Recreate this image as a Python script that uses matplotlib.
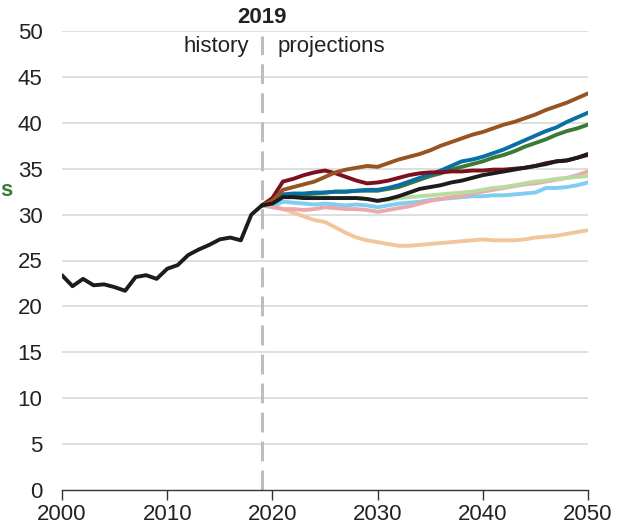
import matplotlib
matplotlib.use("Agg")
import matplotlib.pyplot as plt

plt.rcParams['font.family'] = ['Liberation Sans', 'DejaVu Sans']

hist_years = list(range(2000, 2020))
hist_vals = [23.4, 22.2, 23.0, 22.3, 22.4, 22.1, 21.7, 23.2, 23.4, 23.0,
             24.1, 24.5, 25.6, 26.2, 26.7, 27.3, 27.5, 27.2, 30.0, 31.0]

proj_years = list(range(2019, 2051))
brown = [31.0, 31.5, 32.7, 33.0, 33.3, 33.6, 34.1, 34.6, 34.9, 35.1, 35.3, 35.2,
         35.6, 36.0, 36.3, 36.6, 37.0, 37.5, 37.9, 38.3, 38.7, 39.0, 39.4, 39.8,
         40.1, 40.5, 40.9, 41.4, 41.8, 42.2, 42.7, 43.2]
blue = [31.0, 31.6, 32.2, 32.3, 32.3, 32.4, 32.4, 32.5, 32.5, 32.6, 32.7, 32.7,
        32.9, 33.2, 33.6, 34.0, 34.4, 34.8, 35.3, 35.8, 36.0, 36.3, 36.7, 37.1,
        37.6, 38.1, 38.6, 39.1, 39.5, 40.1, 40.6, 41.1]
green = [31.0, 31.5, 32.0, 32.1, 32.2, 32.3, 32.4, 32.5, 32.5, 32.6, 32.6, 32.6,
         32.8, 33.0, 33.4, 33.8, 34.2, 34.5, 34.9, 35.2, 35.5, 35.8, 36.2, 36.5,
         36.9, 37.4, 37.8, 38.2, 38.7, 39.1, 39.4, 39.8]
darkred = [31.0, 31.8, 33.6, 33.9, 34.3, 34.6, 34.8, 34.5, 34.1, 33.7, 33.4, 33.5,
           33.7, 34.0, 34.3, 34.5, 34.6, 34.6, 34.7, 34.7, 34.8, 34.8, 34.9, 34.9,
           35.0, 35.1, 35.3, 35.6, 35.8, 35.9, 36.2, 36.5]
black = [31.0, 31.2, 31.9, 31.9, 31.8, 31.8, 31.8, 31.8, 31.8, 31.8, 31.7, 31.5,
         31.7, 32.0, 32.4, 32.8, 33.0, 33.2, 33.5, 33.7, 34.0, 34.3, 34.5, 34.7,
         34.9, 35.1, 35.3, 35.5, 35.8, 35.9, 36.2, 36.6]
lightgreen = [31.0, 31.5, 32.2, 32.0, 31.9, 31.9, 31.9, 31.8, 31.8, 31.8, 31.7, 31.5,
              31.6, 31.8, 31.9, 32.0, 32.1, 32.2, 32.3, 32.4, 32.5, 32.7, 32.9, 33.0,
              33.2, 33.4, 33.6, 33.7, 33.9, 34.0, 34.1, 34.2]
pink = [31.0, 30.8, 30.6, 30.6, 30.5, 30.6, 30.8, 30.7, 30.6, 30.6, 30.5, 30.3,
        30.5, 30.7, 30.9, 31.2, 31.5, 31.7, 31.9, 32.0, 32.3, 32.5, 32.7, 32.9,
        33.1, 33.3, 33.4, 33.6, 33.8, 34.0, 34.3, 34.7]
lightblue = [31.0, 30.9, 31.4, 31.3, 31.2, 31.1, 31.2, 31.1, 31.0, 31.1, 31.0, 30.8,
             31.0, 31.2, 31.3, 31.4, 31.6, 31.7, 31.8, 31.9, 32.0, 32.0, 32.1, 32.1,
             32.2, 32.3, 32.4, 32.9, 32.9, 33.0, 33.2, 33.5]
peach = [31.0, 31.0, 30.6, 30.2, 29.8, 29.4, 29.2, 28.6, 28.0, 27.5, 27.2, 27.0,
         26.8, 26.6, 26.6, 26.7, 26.8, 26.9, 27.0, 27.1, 27.2, 27.3, 27.2, 27.2,
         27.2, 27.3, 27.5, 27.6, 27.7, 27.9, 28.1, 28.3]

series = [
    (peach, '#f2c69c'),
    (lightblue, '#7fcdf0'),
    (pink, '#e9a9ad'),
    (lightgreen, '#b9db9f'),
    (green, '#3a7a35'),
    (blue, '#0a6fa3'),
    (darkred, '#7d0f1f'),
    (brown, '#985420'),
    (black, '#1c1c1c'),
]

x_ticks = [2000, 2010, 2020, 2030, 2040, 2050]
y_ticks = [0, 5, 10, 15, 20, 25, 30, 35, 40, 45, 50]

FS = 16

fig = plt.figure(figsize=(6.24, 5.29), dpi=100)
ax = fig.add_axes([62/624, 1-490/529, (588-62)/624, (490-31)/529])

for yv in y_ticks[1:]:
    ax.axhline(yv, color='#dcdcdc', lw=1.3, zorder=0)

ax.axvline(2019, color='#bdbdbd', lw=2.2, dashes=(6.5, 3), ymin=0, ymax=0.99, zorder=1)

for vals, col in series:
    ax.plot(proj_years, vals, color=col, lw=2.8, solid_capstyle='round', zorder=3)
ax.plot(hist_years, hist_vals, color='#1c1c1c', lw=2.8, solid_capstyle='round', zorder=4)

ax.set_xlim(2000, 2050)
ax.set_ylim(0, 50)
ax.set_xticks(x_ticks)
ax.set_yticks(y_ticks)
ax.tick_params(axis='y', length=0, pad=14, labelsize=FS, labelcolor='#222222')
ax.tick_params(axis='x', length=7, width=1, color='#333333', pad=3, labelsize=FS, labelcolor='#222222')
for s in ['top', 'right', 'left']:
    ax.spines[s].set_visible(False)
ax.spines['bottom'].set_color('#333333')
ax.spines['bottom'].set_linewidth(1)

ax.text(2019, 51.5, '2019', ha='center', va='center', fontsize=FS, fontweight='bold', color='#222222')
ax.text(2017.8, 48.3, 'history', ha='right', va='center', fontsize=FS, color='#222222')
ax.text(2020.5, 48.3, 'projections', ha='left', va='center', fontsize=FS, color='#222222')

fig.text(0.0, 1-190/529, 's', ha='left', va='center', fontsize=FS, fontweight='bold', color='#3a7a35')

fig.savefig('out.png', dpi=100)
